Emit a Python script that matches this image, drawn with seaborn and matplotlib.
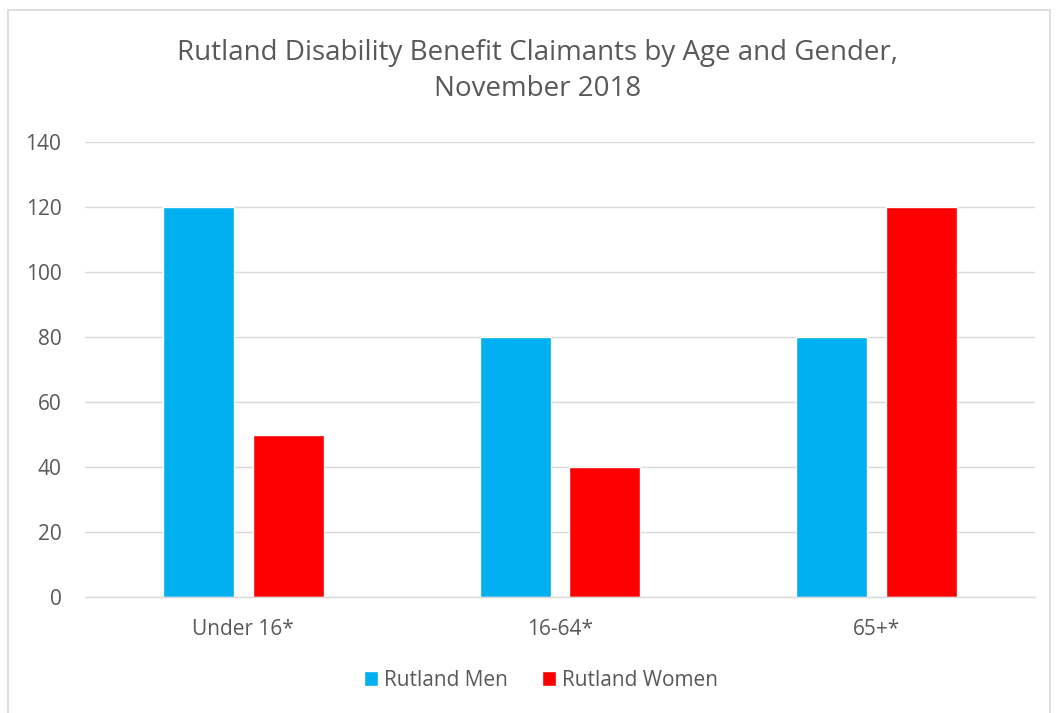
import matplotlib
matplotlib.use("Agg")
import matplotlib.pyplot as plt
import seaborn as sns
import pandas as pd
from matplotlib.patches import Rectangle

categories = ["Under 16*", "16-64*", "65+*"]
men = [120, 80, 80]
women = [50, 40, 120]
series_names = ["Rutland Men", "Rutland Women"]
colors = ["#00B0F0", "#FF0000"]
yticks = [0, 20, 40, 60, 80, 100, 120, 140]
title = "Rutland Disability Benefit Claimants by Age and Gender,\nNovember 2018"

df = pd.DataFrame({
    "Age": categories * 2,
    "Count": men + women,
    "Series": [series_names[0]] * 3 + [series_names[1]] * 3,
})

sns.set_theme(style="white")
plt.rcParams["font.family"] = ["Open Sans", "DejaVu Sans"]
text_color = "#595959"

fig = plt.figure(figsize=(10.57, 7.13), dpi=100)
W, H = 1057, 713
ax = fig.add_axes([85 / W, 1 - 597 / H, 950 / W, (597 - 142) / H])

sns.barplot(data=df, x="Age", y="Count", hue="Series", palette=colors,
            width=0.568, gap=0.21, saturation=1, ax=ax, legend=True,
            order=categories, hue_order=series_names)

ax.set_ylim(0, 140)
ax.set_xlim(-0.5, 2.5)
ax.set_yticks(yticks)
ax.yaxis.grid(True, color="#D9D9D9", linewidth=1)
ax.set_axisbelow(True)
for s in ["top", "right", "left"]:
    ax.spines[s].set_visible(False)
ax.spines["bottom"].set_color("#D9D9D9")
ax.spines["bottom"].set_linewidth(1)
ax.set_xlabel("")
ax.set_ylabel("")
ax.tick_params(axis="both", length=0, labelsize=15, colors=text_color)
ax.tick_params(axis="y", pad=17)
ax.tick_params(axis="x", pad=16)

leg = ax.legend(loc="center", bbox_to_anchor=(0.5 - 19 / 950, -(680 - 597) / (597 - 142)), ncol=2,
                frameon=False, fontsize=15, handlelength=0.7, handleheight=0.7,
                handletextpad=0.3, columnspacing=1.6)
for t in leg.get_texts():
    t.set_color(text_color)

fig.text(537.5 / W, 1 - 71 / H, title, ha="center", va="center",
         fontsize=20, color=text_color, linespacing=1.35)

fig.patches.append(Rectangle((8 / W, -0.05), (1050 - 8) / W, 1.05 - 10 / H,
                             transform=fig.transFigure, fill=False,
                             edgecolor="#D9D9D9", linewidth=1.2))

fig.savefig("out.png", dpi=100)
